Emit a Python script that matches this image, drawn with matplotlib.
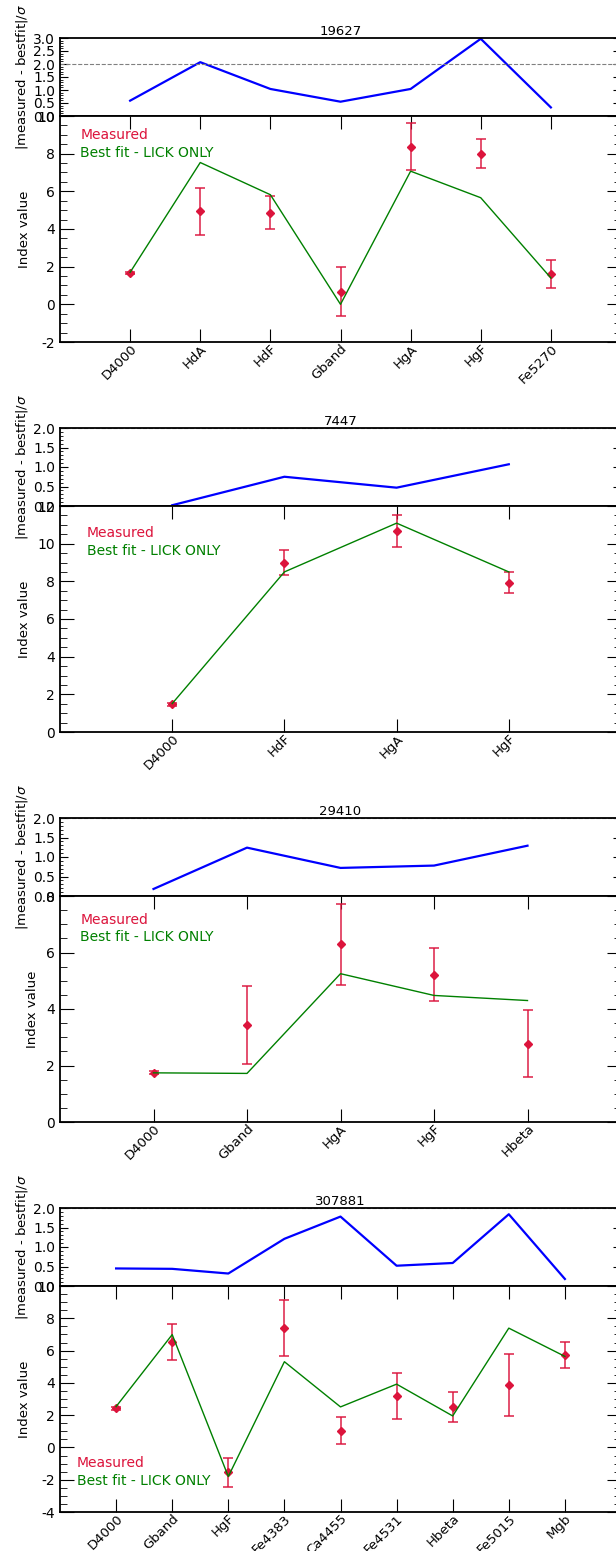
import matplotlib
matplotlib.use('Agg')
import matplotlib.pyplot as plt
from matplotlib.ticker import MultipleLocator, FormatStrFormatter
from matplotlib.lines import Line2D
import numpy as np

plt.rcParams['font.family'] = ['DejaVu Sans']
plt.rcParams['axes.unicode_minus'] = False
plt.rcParams['font.size'] = 10

# galaxy ids (panel titles)
ids = ['19627', '7447', '29410', '307881']

# 19627
names_19627 = ['D4000', 'HdA', 'HdF', 'Gband', 'HgA', 'HgF', 'Fe5270']
meas_19627 = [1.68, 4.93, 4.86, 0.68, 8.36, 8.00, 1.61]
err_19627 = [0.05, 1.27, 0.88, 1.31, 1.25, 0.78, 0.76]
fit_19627 = [1.70, 7.53, 5.82, 0.00, 7.07, 5.66, 1.40]
resid_19627 = [0.59, 2.07, 1.04, 0.55, 1.04, 2.97, 0.33]

# 7447
names_7447 = ['D4000', 'HdF', 'HgA', 'HgF']
meas_7447 = [1.48, 9.00, 10.68, 7.93]
err_7447 = [0.08, 0.68, 0.85, 0.54]
fit_7447 = [1.51, 8.50, 11.09, 8.50]
resid_7447 = [0.02, 0.75, 0.47, 1.07]

# 29410
names_29410 = ['D4000', 'Gband', 'HgA', 'HgF', 'Hbeta']
meas_29410 = [1.74, 3.43, 6.29, 5.21, 2.77]
err_29410 = [0.05, 1.38, 1.43, 0.94, 1.18]
fit_29410 = [1.74, 1.72, 5.25, 4.48, 4.30]
resid_29410 = [0.18, 1.24, 0.72, 0.78, 1.29]

# 307881
names_307881 = ['D4000', 'Gband', 'HgF', 'Fe4383', 'Ca4455', 'Fe4531',
                'Hbeta', 'Fe5015', 'Mgb']
meas_307881 = [2.43, 6.52, -1.55, 7.39, 1.04, 3.18, 2.51, 3.86, 5.73]
err_307881 = [0.10, 1.12, 0.92, 1.74, 0.82, 1.40, 0.92, 1.91, 0.80]
fit_307881 = [2.53, 6.99, -1.80, 5.31, 2.51, 3.92, 1.95, 7.39, 5.64]
resid_307881 = [0.45, 0.44, 0.32, 1.21, 1.78, 0.52, 0.59, 1.84, 0.18]

# axis limits
resid_top = [3.0, 2.0, 2.0, 2.0]
index_lims = [(-2, 10), (0, 12), (0, 8), (-4, 10)]

# legend placement (axes fraction)
legend_locs = ['upper left', 'upper left', 'upper left', 'lower left']
legend_anchor = [(0.036, 0.945), (0.048, 0.911), (0.036, 0.926), (0.030, 0.108)]

panels = [
    (names_19627, meas_19627, err_19627, fit_19627, resid_19627),
    (names_7447, meas_7447, err_7447, fit_7447, resid_7447),
    (names_29410, meas_29410, err_29410, fit_29410, resid_29410),
    (names_307881, meas_307881, err_307881, fit_307881, resid_307881),
]

W, H = 616.0, 1551.0
fig = plt.figure(figsize=(W / 100, H / 100), dpi=100)
x0, x1 = 60, 621

for i, (names, meas, err, fit, resid) in enumerate(panels):
    top = 38 + 390 * i
    ax_r = fig.add_axes([x0 / W, 1 - (top + 78) / H, (x1 - x0) / W, 78 / H])
    ax = fig.add_axes([x0 / W, 1 - (top + 304) / H, (x1 - x0) / W, 226 / H])
    n = len(names)
    x = np.arange(n)

    # residual panel
    ax_r.plot(x, resid, color='blue', lw=1.6)
    ax_r.axhline(2.0, color='gray', ls='--', lw=0.8)
    ax_r.set_xlim(-1, n)
    ax_r.set_ylim(0, resid_top[i])
    ax_r.set_xticks([])
    ax_r.yaxis.set_major_locator(MultipleLocator(0.5))
    ax_r.yaxis.set_minor_locator(MultipleLocator(0.1))
    ax_r.yaxis.set_major_formatter(FormatStrFormatter('%.1f'))
    ax_r.tick_params(axis='y', which='both', direction='in', left=True, right=True)
    ax_r.tick_params(axis='y', which='major', length=5.5, labelsize=10)
    ax_r.tick_params(axis='y', which='minor', length=2.5)
    ax_r.set_title(ids[i], fontsize=9.5, pad=1.5)
    ax_r.set_ylabel(r'|measured - bestfit|/$\sigma$', fontsize=9.5, labelpad=2)

    # index panel
    ax.errorbar(x, meas, yerr=err, fmt='D', color='crimson', ms=4.5,
                ecolor=(0.86, 0.08, 0.24, 0.75), elinewidth=1.4,
                capsize=3.5, capthick=1.4, zorder=2)
    ax.plot(x, fit, color='green', lw=1.0, zorder=3)
    ax.set_xlim(-1, n)
    ax.set_ylim(*index_lims[i])
    ax.set_xticks(x)
    ax.set_xticklabels(names, rotation=45, ha='right', rotation_mode='anchor')
    ax.yaxis.set_major_locator(MultipleLocator(2))
    ax.yaxis.set_minor_locator(MultipleLocator(0.5))
    ax.tick_params(axis='x', which='major', direction='in', top=True, bottom=True,
                   length=9.5, labelsize=9.5, pad=0)
    ax.tick_params(axis='y', which='both', direction='in', left=True, right=True)
    ax.tick_params(axis='y', which='major', length=10, labelsize=10)
    ax.tick_params(axis='y', which='minor', length=5)
    ax.set_ylabel('Index value', fontsize=9.5, labelpad=5)

    for a in (ax_r, ax):
        for s in a.spines.values():
            s.set_linewidth(1.3)

    handles = [Line2D([], [], ls='none'), Line2D([], [], ls='none')]
    leg = ax.legend(handles, ['Measured', 'Best fit - LICK ONLY'],
                    loc=legend_locs[i], bbox_to_anchor=legend_anchor[i],
                    frameon=False, handlelength=0, handletextpad=0,
                    borderaxespad=0, borderpad=0, labelspacing=0.25,
                    fontsize=10)
    for t, c in zip(leg.get_texts(), ['crimson', 'green']):
        t.set_color(c)

fig.savefig('out.png', dpi=100)
